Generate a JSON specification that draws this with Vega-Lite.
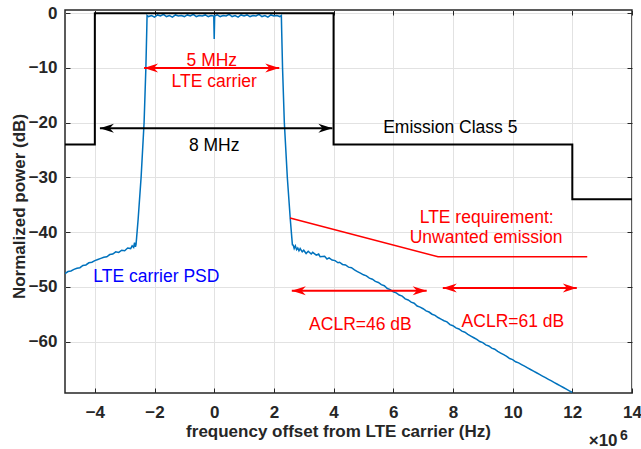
{
  "$schema": "https://vega.github.io/schema/vega-lite/v6.json",
  "width": 567,
  "height": 383,
  "autosize": {"type": "none"},
  "padding": {"left": 65, "top": 10, "right": 9, "bottom": 56},
  "background": "white",
  "config": {
    "view": {"stroke": "#262626", "strokeWidth": 1.5},
    "font": "Liberation Sans",
    "axis": {
      "gridColor": "#e2e2e2",
      "gridWidth": 1,
      "tickColor": "#262626",
      "tickSize": -5,
      "tickWidth": 1,
      "domain": false,
      "labelFont": "Liberation Sans",
      "labelFontWeight": "bold",
      "labelFontSize": 17,
      "labelColor": "#262626",
      "labelFlush": false,
      "labelOverlap": false,
      "titleFont": "Liberation Sans",
      "titleFontWeight": "bold",
      "titleFontSize": 17,
      "titleColor": "#262626"
    }
  },
  "datasets": {
    "psd": [
      {"f": -5.0, "p": -47.6}, {"f": -4.9, "p": -47.2}, {"f": -4.8, "p": -47.1}, {"f": -4.7, "p": -46.8},
      {"f": -4.6, "p": -46.6}, {"f": -4.5, "p": -46.5}, {"f": -4.4, "p": -46.1}, {"f": -4.3, "p": -46.0},
      {"f": -4.2, "p": -45.6}, {"f": -4.1, "p": -45.5}, {"f": -4.0, "p": -45.2}, {"f": -3.9, "p": -45.0},
      {"f": -3.8, "p": -44.8}, {"f": -3.7, "p": -44.6}, {"f": -3.6, "p": -44.5}, {"f": -3.5, "p": -44.1},
      {"f": -3.4, "p": -44.0}, {"f": -3.3, "p": -43.6}, {"f": -3.2, "p": -43.7}, {"f": -3.1, "p": -43.3},
      {"f": -3.0, "p": -43.4}, {"f": -2.9, "p": -42.9}, {"f": -2.8, "p": -43.0}, {"f": -2.75, "p": -42.5},
      {"f": -2.7, "p": -42.8}, {"f": -2.67, "p": -41.9}, {"f": -2.64, "p": -42.7}, {"f": -2.62, "p": -42.3},
      {"f": -2.6, "p": -41.0}, {"f": -2.55, "p": -37.7}, {"f": -2.45, "p": -30.0}, {"f": -2.35, "p": -20.0},
      {"f": -2.29, "p": -10.0}, {"f": -2.26, "p": -3.0}, {"f": -2.25, "p": -0.4},
      {"f": -2.2, "p": -0.6}, {"f": -2.1, "p": -0.4}, {"f": -2.0, "p": -0.7}, {"f": -1.9, "p": -0.3},
      {"f": -1.8, "p": -0.5}, {"f": -1.7, "p": -0.2}, {"f": -1.6, "p": -0.6}, {"f": -1.5, "p": -0.4},
      {"f": -1.4, "p": -0.7}, {"f": -1.3, "p": -0.3}, {"f": -1.2, "p": -0.5}, {"f": -1.1, "p": -0.4},
      {"f": -1.0, "p": -0.6}, {"f": -0.9, "p": -0.3}, {"f": -0.8, "p": -0.5}, {"f": -0.7, "p": -0.2},
      {"f": -0.6, "p": -0.6}, {"f": -0.5, "p": -0.4}, {"f": -0.4, "p": -0.5}, {"f": -0.3, "p": -0.3},
      {"f": -0.2, "p": -0.6}, {"f": -0.1, "p": -0.4}, {"f": -0.015, "p": -0.5}, {"f": 0.0, "p": -4.7},
      {"f": 0.015, "p": -0.5}, {"f": 0.1, "p": -0.3}, {"f": 0.2, "p": -0.6}, {"f": 0.3, "p": -0.4},
      {"f": 0.4, "p": -0.5}, {"f": 0.5, "p": -0.2}, {"f": 0.6, "p": -0.6}, {"f": 0.7, "p": -0.4},
      {"f": 0.8, "p": -0.7}, {"f": 0.9, "p": -0.3}, {"f": 1.0, "p": -0.5}, {"f": 1.1, "p": -0.3},
      {"f": 1.2, "p": -0.6}, {"f": 1.3, "p": -0.4}, {"f": 1.4, "p": -0.5}, {"f": 1.5, "p": -0.2},
      {"f": 1.6, "p": -0.6}, {"f": 1.7, "p": -0.4}, {"f": 1.8, "p": -0.7}, {"f": 1.9, "p": -0.3},
      {"f": 2.0, "p": -0.5}, {"f": 2.1, "p": -0.4}, {"f": 2.2, "p": -0.6}, {"f": 2.25, "p": -0.4},
      {"f": 2.26, "p": -3.0}, {"f": 2.29, "p": -10.0}, {"f": 2.35, "p": -20.0}, {"f": 2.45, "p": -30.0},
      {"f": 2.55, "p": -37.7}, {"f": 2.6, "p": -41.0}, {"f": 2.62, "p": -42.3},
      {"f": 2.65, "p": -42.4}, {"f": 2.68, "p": -43.0}, {"f": 2.72, "p": -42.5}, {"f": 2.76, "p": -43.2},
      {"f": 2.8, "p": -42.9}, {"f": 2.84, "p": -43.4}, {"f": 2.88, "p": -43.0}, {"f": 2.95, "p": -43.6},
      {"f": 3.0, "p": -43.3}, {"f": 3.08, "p": -43.9}, {"f": 3.15, "p": -43.5}, {"f": 3.25, "p": -44.0},
      {"f": 3.3, "p": -43.7}, {"f": 3.42, "p": -44.2}, {"f": 3.5, "p": -44.0}, {"f": 3.55, "p": -44.5},
      {"f": 3.7, "p": -44.4}, {"f": 3.78, "p": -44.9}, {"f": 3.85, "p": -44.7}, {"f": 3.95, "p": -45.1},
      {"f": 4.05, "p": -45.2}, {"f": 4.15, "p": -45.6}, {"f": 4.2, "p": -45.5}, {"f": 4.3, "p": -45.9},
      {"f": 4.4, "p": -46.0}, {"f": 4.5, "p": -46.4}, {"f": 4.6, "p": -46.5}, {"f": 4.7, "p": -46.9},
      {"f": 4.8, "p": -47.2}, {"f": 4.9, "p": -47.5}, {"f": 5.0, "p": -47.8}, {"f": 5.1, "p": -48.0},
      {"f": 5.2, "p": -48.4}, {"f": 5.3, "p": -48.6}, {"f": 5.4, "p": -49.0}, {"f": 5.5, "p": -49.2},
      {"f": 5.6, "p": -49.6}, {"f": 5.7, "p": -49.8}, {"f": 5.8, "p": -50.3}, {"f": 5.9, "p": -50.5},
      {"f": 6.0, "p": -50.9}, {"f": 6.1, "p": -51.1}, {"f": 6.2, "p": -51.5}, {"f": 6.3, "p": -51.7},
      {"f": 6.4, "p": -52.2}, {"f": 6.5, "p": -52.4}, {"f": 6.6, "p": -52.8}, {"f": 6.7, "p": -53.0},
      {"f": 6.8, "p": -53.5}, {"f": 6.9, "p": -53.7}, {"f": 7.0, "p": -54.0}, {"f": 7.1, "p": -54.4},
      {"f": 7.2, "p": -54.6}, {"f": 7.3, "p": -55.0}, {"f": 7.4, "p": -55.2}, {"f": 7.5, "p": -55.6},
      {"f": 7.6, "p": -55.9}, {"f": 7.7, "p": -56.2}, {"f": 7.8, "p": -56.4}, {"f": 7.9, "p": -56.9},
      {"f": 8.0, "p": -57.1}, {"f": 8.1, "p": -57.5}, {"f": 8.2, "p": -57.7}, {"f": 8.3, "p": -58.1},
      {"f": 8.4, "p": -58.3}, {"f": 8.5, "p": -58.7}, {"f": 8.6, "p": -59.0}, {"f": 8.7, "p": -59.3},
      {"f": 8.8, "p": -59.6}, {"f": 8.9, "p": -60.0}, {"f": 9.0, "p": -60.2}, {"f": 9.1, "p": -60.6},
      {"f": 9.2, "p": -60.8}, {"f": 9.3, "p": -61.2}, {"f": 9.4, "p": -61.4}, {"f": 9.5, "p": -61.8},
      {"f": 9.6, "p": -62.1}, {"f": 9.7, "p": -62.4}, {"f": 9.8, "p": -62.7}, {"f": 9.9, "p": -63.1},
      {"f": 10.0, "p": -63.3}, {"f": 10.1, "p": -63.7}, {"f": 10.2, "p": -63.9}, {"f": 10.3, "p": -64.2},
      {"f": 10.4, "p": -64.5}, {"f": 10.5, "p": -64.8}, {"f": 10.6, "p": -65.1}, {"f": 10.7, "p": -65.4},
      {"f": 10.8, "p": -65.7}, {"f": 10.9, "p": -66.0}, {"f": 11.0, "p": -66.3}, {"f": 11.1, "p": -66.6},
      {"f": 11.2, "p": -66.9}, {"f": 11.3, "p": -67.2}, {"f": 11.4, "p": -67.5}, {"f": 11.5, "p": -67.8},
      {"f": 11.6, "p": -68.1}, {"f": 11.7, "p": -68.4}, {"f": 11.8, "p": -68.7}, {"f": 11.9, "p": -69.0},
      {"f": 12.0, "p": -69.3}
    ],
    "mask": [
      {"f": -5, "p": -24}, {"f": -4, "p": 0}, {"f": 4, "p": -24}, {"f": 12, "p": -34}, {"f": 14, "p": -34}
    ],
    "req": [
      {"f": 2.54, "p": -37.4}, {"f": 7.5, "p": -44.5}, {"f": 12.5, "p": -44.5}
    ],
    "arrows": [
      {"name": "5 MHz", "x1": -2.35, "x2": 2.18, "y": -10.0, "series": "req"},
      {"name": "8 MHz", "x1": -3.83, "x2": 3.96, "y": -21.0, "series": "mask"},
      {"name": "ACLR=46", "x1": 2.6, "x2": 7.12, "y": -50.7, "series": "req"},
      {"name": "ACLR=61", "x1": 7.66, "x2": 12.15, "y": -50.2, "series": "req"}
    ],
    "labels": [
      {"text": "5 MHz", "x": -0.08, "y": -9.6, "series": "req"},
      {"text": "LTE carrier", "x": 0.0, "y": -13.5, "series": "req"},
      {"text": "8 MHz", "x": 0.0, "y": -25.1, "series": "mask"},
      {"text": "Emission Class 5", "x": 7.91, "y": -21.8, "series": "mask"},
      {"text": "LTE requirement:", "x": 9.13, "y": -38.3, "series": "req"},
      {"text": "Unwanted emission", "x": 9.11, "y": -42.0, "series": "req"},
      {"text": "ACLR=46 dB", "x": 4.9, "y": -57.9, "series": "req"},
      {"text": "ACLR=61 dB", "x": 10.01, "y": -57.3, "series": "req"},
      {"text": "LTE carrier PSD", "x": -1.94, "y": -49.2, "series": "psd"}
    ],
    "mult": [{"text": "×10", "x": 12.55, "y": -79.0}],
    "exp": [{"text": "6", "x": 13.6, "y": -77.9}]
  },
  "resolve": {"axis": {"x": "independent", "y": "independent"}},
  "layer": [
    {
      "data": {"name": "psd"},
      "mark": {"type": "line", "color": "#0072bd", "strokeWidth": 1.5, "clip": true},
      "encoding": {
        "x": {
          "field": "f", "type": "quantitative",
          "scale": {"domain": [-5, 14], "nice": false, "zero": false},
          "axis": {
            "values": [-4, -2, 0, 2, 4, 6, 8, 10, 12, 14],
            "title": "frequency offset from LTE carrier (Hz)",
            "grid": true, "labelPadding": 16, "titlePadding": 3, "titleX": 273
          }
        },
        "y": {
          "field": "p", "type": "quantitative",
          "scale": {"domain": [-69.4, 0.6], "nice": false, "zero": false},
          "axis": {
            "values": [-60, -50, -40, -30, -20, -10, 0],
            "title": "Normalized power (dB)",
            "grid": true, "labelPadding": 13, "titlePadding": 0, "titleY": 196
          }
        }
      }
    },
    {
      "data": {"name": "mask"},
      "mark": {"type": "line", "color": "#000000", "strokeWidth": 2, "interpolate": "step-after"},
      "encoding": {
        "x": {
          "field": "f", "type": "quantitative",
          "axis": {"orient": "top", "values": [-4, -2, 0, 2, 4, 6, 8, 10, 12, 14], "labels": false, "title": null, "grid": false}
        },
        "y": {
          "field": "p", "type": "quantitative",
          "axis": {"orient": "right", "values": [-60, -50, -40, -30, -20, -10, 0], "labels": false, "title": null, "grid": false}
        }
      }
    },
    {
      "data": {"name": "req"},
      "mark": {"type": "line", "color": "#ff0000", "strokeWidth": 1.5},
      "encoding": {
        "x": {"field": "f", "type": "quantitative", "axis": null},
        "y": {"field": "p", "type": "quantitative", "axis": null}
      }
    },
    {
      "data": {"name": "arrows"},
      "mark": {"type": "rule", "strokeWidth": 2},
      "encoding": {
        "x": {"field": "x1", "type": "quantitative", "axis": null},
        "x2": {"field": "x2"},
        "y": {"field": "y", "type": "quantitative", "axis": null},
        "color": {"field": "series", "type": "nominal", "scale": {"domain": ["mask", "req", "psd"], "range": ["#000000", "#ff0000", "#0000ff"]}, "legend": null}
      }
    },
    {
      "data": {"name": "arrows"},
      "mark": {"type": "point", "shape": "M0,0L-1,-0.32L-0.7,0L-1,0.32Z", "size": 784, "angle": 0, "filled": true, "opacity": 1, "strokeWidth": 0},
      "encoding": {
        "x": {"field": "x2", "type": "quantitative", "axis": null},
        "y": {"field": "y", "type": "quantitative", "axis": null},
        "color": {"field": "series", "type": "nominal", "legend": null}
      }
    },
    {
      "data": {"name": "arrows"},
      "mark": {"type": "point", "shape": "M0,0L-1,-0.32L-0.7,0L-1,0.32Z", "size": 784, "angle": 180, "filled": true, "opacity": 1, "strokeWidth": 0},
      "encoding": {
        "x": {"field": "x1", "type": "quantitative", "axis": null},
        "y": {"field": "y", "type": "quantitative", "axis": null},
        "color": {"field": "series", "type": "nominal", "legend": null}
      }
    },
    {
      "data": {"name": "labels"},
      "mark": {"type": "text", "font": "Liberation Sans", "fontSize": 17.5, "align": "center", "baseline": "alphabetic"},
      "encoding": {
        "x": {"field": "x", "type": "quantitative", "axis": null},
        "y": {"field": "y", "type": "quantitative", "axis": null},
        "text": {"field": "text"},
        "color": {"field": "series", "type": "nominal", "legend": null}
      }
    },
    {
      "data": {"name": "mult"},
      "mark": {"type": "text", "font": "Liberation Sans", "fontSize": 17, "fontWeight": "bold", "align": "left", "baseline": "alphabetic", "color": "#262626"},
      "encoding": {
        "x": {"field": "x", "type": "quantitative", "axis": null},
        "y": {"field": "y", "type": "quantitative", "axis": null},
        "text": {"field": "text"}
      }
    },
    {
      "data": {"name": "exp"},
      "mark": {"type": "text", "font": "Liberation Sans", "fontSize": 14, "fontWeight": "bold", "align": "left", "baseline": "alphabetic", "color": "#262626"},
      "encoding": {
        "x": {"field": "x", "type": "quantitative", "axis": null},
        "y": {"field": "y", "type": "quantitative", "axis": null},
        "text": {"field": "text"}
      }
    }
  ]
}
